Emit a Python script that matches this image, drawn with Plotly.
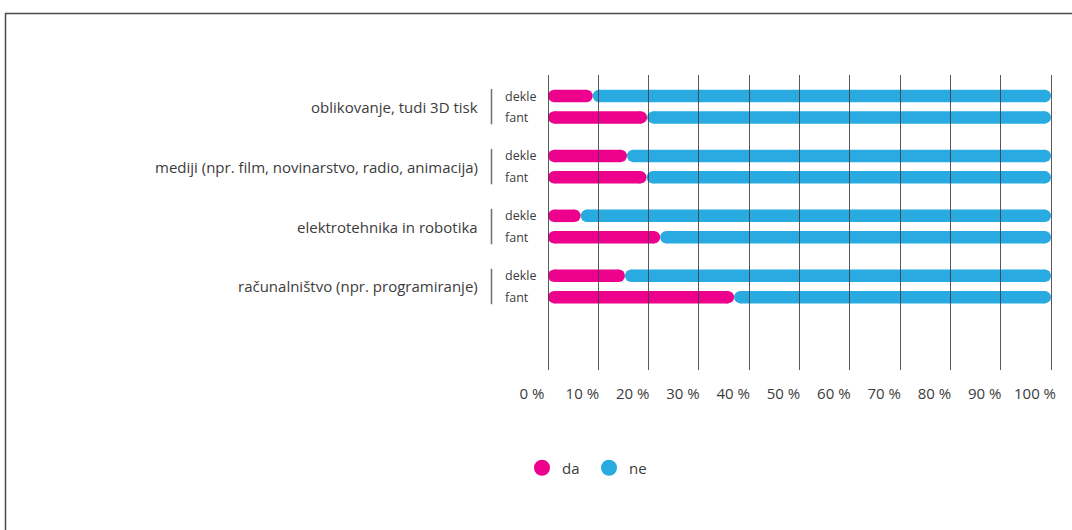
import plotly.graph_objects as go

# ---------------- data ----------------
categories = [
    "oblikovanje, tudi 3D tisk",
    "mediji (npr. film, novinarstvo, radio, animacija)",
    "elektrotehnika in robotika",
    "računalništvo (npr. programiranje)",
]
groups = ["dekle", "fant"]
series_names = ["da", "ne"]
da_dekle = [8.9, 15.7, 6.5, 15.3]
ne_dekle = [91.1, 84.3, 93.5, 84.7]
da_fant = [19.7, 19.6, 22.3, 37.0]
ne_fant = [80.3, 80.4, 77.7, 63.0]
tick_values = [0, 10, 20, 30, 40, 50, 60, 70, 80, 90, 100]
tick_labels = ["0 %", "10 %", "20 %", "30 %", "40 %", "50 %",
               "60 %", "70 %", "80 %", "90 %", "100 %"]

# ---------------- layout constants ----------------
W, H = 1072, 530
X0_PX, X100_PX = 548, 1051   # pixel position of 0 % and 100 %
PAD_PX = 3                   # range padding so the end ticks are drawn
M_L = X0_PX - PAD_PX
M_R = W - X100_PX - PAD_PX
M_T, M_B = 75, 160
PLOT_W = W - M_L - M_R
PLOT_H = H - M_T - M_B
SCALE = (X100_PX - X0_PX) / 100.0   # px per percent
X_PAD = PAD_PX / SCALE
UNIT = 21.4          # px per y unit
GROUP_STEP = 2.8     # y units between groups
FIRST_ROW_PX = 21    # first row centre below plot top
BAR_PX = 12.5
PINK = "#EC008C"
BLUE = "#29ABE2"
TEXT = "#3c3c3c"
FONT = "Open Sans"

y_top = -FIRST_ROW_PX / UNIT
y_bottom = y_top + PLOT_H / UNIT
r = BAR_PX / 2 / SCALE  # cap radius in data units


def px_to_paper_x(px):
    return (px - M_L) / PLOT_W


def px_to_paper_y(py):
    return (M_T + PLOT_H - py) / PLOT_H


rows = []  # (y, da, ne)
for g in range(len(categories)):
    rows.append((g * GROUP_STEP, da_dekle[g], ne_dekle[g]))
    rows.append((g * GROUP_STEP + 1, da_fant[g], ne_fant[g]))

fig = go.Figure()

for name, color in zip(series_names, [PINK, BLUE]):
    xs, ys = [], []
    for y, da, ne in rows:
        if name == "da":
            s, e = 0, da
        else:
            s, e = da, da + ne
        xs += [s + r, e - r, None]
        ys += [y, y, None]
    fig.add_trace(go.Scatter(
        x=xs, y=ys, mode="lines+markers",
        line=dict(color=color, width=BAR_PX),
        marker=dict(color=color, size=BAR_PX, line=dict(width=0)),
        showlegend=False, hoverinfo="skip",
    ))

# legend-only traces
for name, color in zip(series_names, [PINK, BLUE]):
    fig.add_trace(go.Scatter(
        x=[None], y=[None], mode="markers", name=name,
        marker=dict(color=color, size=20, symbol="circle"),
        showlegend=True,
    ))

annotations = []
shapes = []
for g, cat in enumerate(categories):
    yd = g * GROUP_STEP
    yf = g * GROUP_STEP + 1
    annotations.append(dict(
        text=cat, xref="paper", x=0, xshift=480 - M_L, xanchor="right",
        yref="y", y=(yd + yf) / 2, yanchor="middle", showarrow=False,
        font=dict(family=FONT, size=15, color=TEXT),
    ))
    for gy, lab in zip([yd, yf], groups):
        annotations.append(dict(
            text=lab, xref="paper", x=0, xshift=503 - M_L, xanchor="left",
            yref="y", y=gy, yanchor="middle", showarrow=False,
            font=dict(family=FONT, size=12.5, color=TEXT),
        ))
    shapes.append(dict(
        type="line", xref="paper", yref="y",
        x0=px_to_paper_x(491.5), x1=px_to_paper_x(491.5),
        y0=yd - 7 / UNIT, y1=yf + 7 / UNIT,
        line=dict(color="#6e6e6e", width=1.5),
    ))

# outer frame (top and left edges)
xl = px_to_paper_x(5.5)
xr = px_to_paper_x(W + 20)
yt = px_to_paper_y(13.5)
yb = px_to_paper_y(H + 20)
shapes.append(dict(
    type="path", xref="paper", yref="paper",
    path=f"M {xl},{yb} L {xl},{yt} L {xr},{yt}",
    line=dict(color="#4a4a4a", width=1.5),
))

fig.update_layout(
    width=W, height=H,
    margin=dict(l=M_L, r=M_R, t=M_T, b=M_B, pad=0),
    paper_bgcolor="white", plot_bgcolor="white",
    font=dict(family=FONT, size=15, color=TEXT),
    hovermode=False,
    annotations=annotations,
    shapes=shapes,
    showlegend=True,
    legend=dict(
        orientation="h", x=px_to_paper_x(542 - 20), xanchor="left",
        y=px_to_paper_y(468), yanchor="middle",
        font=dict(family=FONT, size=15, color=TEXT),
        bgcolor="rgba(0,0,0,0)", entrywidth=22, itemclick=False,
        itemdoubleclick=False,
    ),
    xaxis=dict(
        range=[-X_PAD, 100 + X_PAD], tickvals=tick_values, ticktext=tick_labels,
        ticks="inside", ticklen=PLOT_H, tickwidth=1.2,
        tickcolor="rgba(60,60,60,0.85)", layer="above traces",
        showgrid=False, zeroline=False, showline=False,
        tickfont=dict(family=FONT, size=15, color=TEXT),
        ticklabelshift=-16, ticklabelstandoff=13, fixedrange=True,
    ),
    yaxis=dict(
        range=[y_bottom, y_top], showticklabels=False, showgrid=False,
        zeroline=False, showline=False, ticks="", fixedrange=True,
    ),
)

fig.write_html("out.html", config={"displayModeBar": False},
               post_script="document.body.style.margin='0';")
